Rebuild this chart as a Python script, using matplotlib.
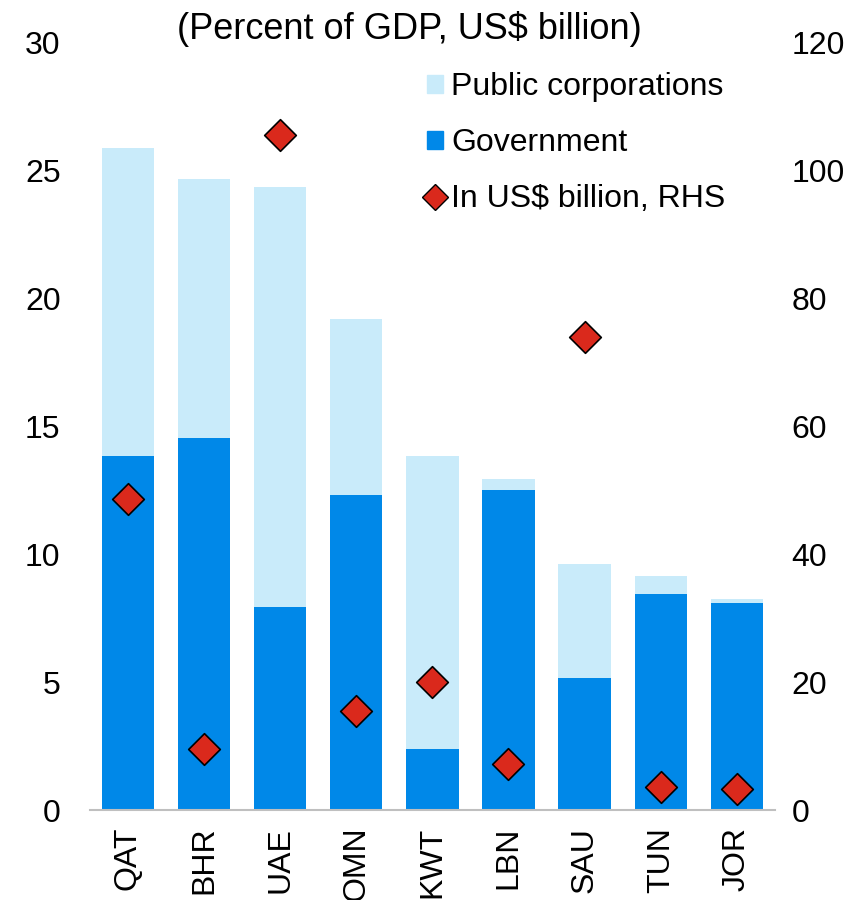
import matplotlib.pyplot as plt
from matplotlib.patches import Patch
from matplotlib.lines import Line2D
import numpy as np

plt.rcParams['font.family'] = ['Liberation Sans', 'DejaVu Sans']

countries = ['QAT', 'BHR', 'UAE', 'OMN', 'KWT', 'LBN', 'SAU', 'TUN', 'JOR']
government = [13.85, 14.55, 7.95, 12.3, 2.4, 12.5, 5.15, 8.45, 8.1]
total = [25.85, 24.65, 24.35, 19.2, 13.85, 12.95, 9.6, 9.15, 8.25]
public_corp = [t - g for t, g in zip(total, government)]
usd_billion = [48.6, 9.5, 105.5, 15.5, 20.0, 7.2, 73.9, 3.6, 3.3]

light_blue = '#C9EBFA'
gov_blue = '#0088E8'
red = '#DA291C'

fig = plt.figure(figsize=(8.63, 9), dpi=100)
ax = fig.add_axes([0.104, 0.1, 0.794, 0.853])
x = np.arange(len(countries))
ax.bar(x, government, width=0.69, color=gov_blue, zorder=2)
ax.bar(x, public_corp, bottom=government, width=0.69, color=light_blue, zorder=2)

ax.set_xlim(-0.5, len(countries) - 0.5)
ax.set_ylim(0, 30)
ax.set_yticks(range(0, 31, 5))
ax.set_xticks(x)
ax.set_xticklabels(countries, rotation=90)
ax.tick_params(axis='both', length=0, labelsize=23)
ax.tick_params(axis='x', pad=12)
ax.tick_params(axis='y', pad=21)
for s in ['top', 'right', 'left']:
    ax.spines[s].set_visible(False)
ax.spines['bottom'].set_color('#BFBFBF')
ax.spines['bottom'].set_linewidth(1.5)

ax2 = ax.twinx()
ax2.scatter(x, usd_billion, marker='D', s=260, color=red, edgecolor='black', linewidth=1.2, zorder=3)
ax2.set_ylim(0, 120)
ax2.set_yticks(range(0, 121, 20))
ax2.tick_params(axis='y', length=0, labelsize=23, pad=12)
for s in ['top', 'right', 'left', 'bottom']:
    ax2.spines[s].set_visible(False)

fig.text(0.474, 0.968, '(Percent of GDP, US$ billion)', ha='center', va='center', fontsize=26)

handles = [Patch(color=light_blue, label='Public corporations'),
           Patch(color=gov_blue, label='Government'),
           Line2D([], [], marker='D', linestyle='none', markersize=13, markerfacecolor=red,
                  markeredgecolor='black', label='In US$ billion, RHS')]
fig.legend(handles=handles, loc='upper left', bbox_to_anchor=(0.495, 0.92), frameon=False,
           fontsize=23, handlelength=0.5, handleheight=0.5, handletextpad=0.25,
           labelspacing=0.82, borderaxespad=0, borderpad=0)

fig.savefig('out.png', dpi=100)
